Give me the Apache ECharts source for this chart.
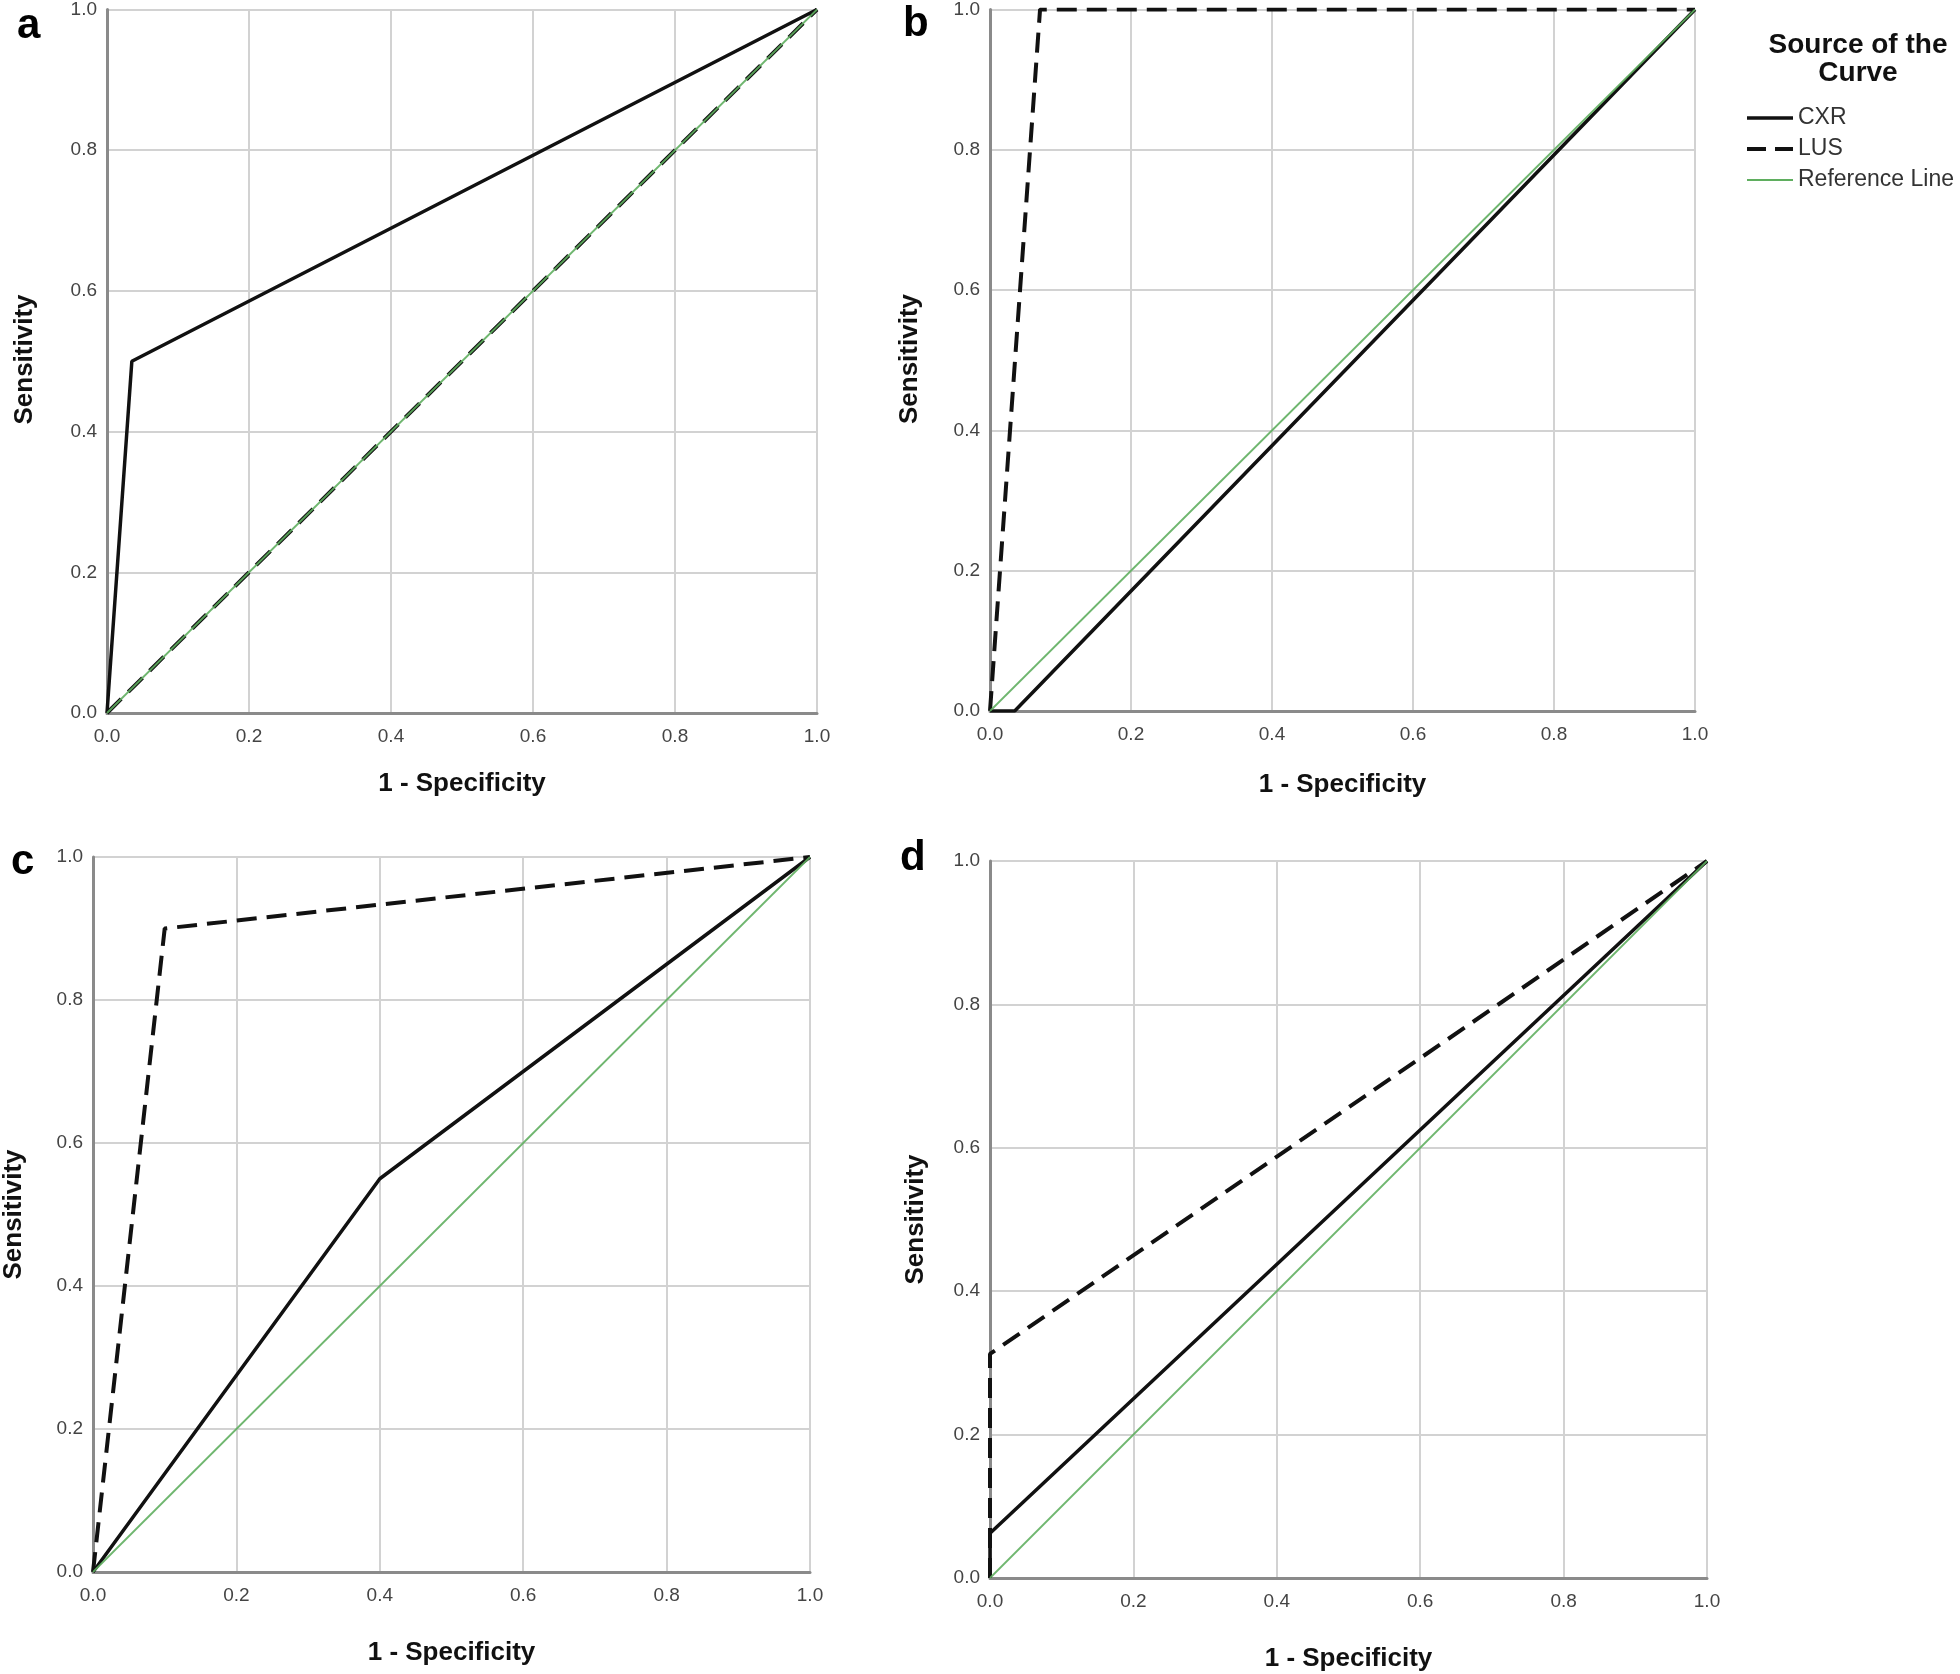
<!DOCTYPE html>
<html><head><meta charset="utf-8">
<script src="https://cdn.jsdelivr.net/npm/echarts@6/dist/echarts.min.js"></script>
<style>html,body{margin:0;padding:0;background:#fff}#c{width:1960px;height:1674px}</style>
</head><body><div id="c"></div>
<script>
// Data (1 - Specificity, Sensitivity)
const panelLabels = ['a','b','c','d'];
const tickValues = [0, 0.2, 0.4, 0.6, 0.8, 1.0];
const refFpr = [0, 1];
const refTpr = [0, 1];
const aCxrFpr = [0, 0.035, 1];
const aCxrTpr = [0, 0.5, 1];
const aLusFpr = [0, 1];
const aLusTpr = [0, 1];
const bCxrFpr = [0, 0.035, 1];
const bCxrTpr = [0, 0, 1];
const bLusFpr = [0, 0.071, 1];
const bLusTpr = [0, 1, 1];
const cCxrFpr = [0, 0.4, 1];
const cCxrTpr = [0, 0.55, 1];
const cLusFpr = [0, 0.1, 1];
const cLusTpr = [0, 0.9, 1];
const dCxrFpr = [0, 0, 1];
const dCxrTpr = [0, 0.0625, 1];
const dLusFpr = [0, 0, 1];
const dLusTpr = [0, 0.3125, 1];

const zip = (xs, ys) => xs.map((x, i) => [x, ys[i]]);
const cxr = [zip(aCxrFpr,aCxrTpr), zip(bCxrFpr,bCxrTpr), zip(cCxrFpr,cCxrTpr), zip(dCxrFpr,dCxrTpr)];
const lus = [zip(aLusFpr,aLusTpr), zip(bLusFpr,bLusTpr), zip(cLusFpr,cLusTpr), zip(dLusFpr,dLusTpr)];
const ref = zip(refFpr, refTpr);

const FONT = 'Liberation Sans, Arial, sans-serif';
const grids = [
  {left:107, top:6, width:710, height:707},
  {left:990, top:7, width:705, height:704},
  {left:93, top:857, width:717, height:715},
  {left:990, top:861, width:717, height:717}
];
const labelPos = [
  {left:12, top:0}, {left:898, top:-2}, {left:6, top:836}, {left:895, top:832}
];
const yNameX = [25, 910, 14, 916];
const xNameY = [784, 785, 1653, 1659];

const xAxes = [], yAxes = [], series = [], titles = [];
grids.forEach((g, i) => {
  xAxes.push({
    type:'value', gridIndex:i, min:0, max:1, interval:0.2,
    axisLine:{show:true, lineStyle:{color:'#8a8a8a', width:3}},
    axisTick:{show:false},
    splitLine:{show:true, lineStyle:{color:'#d2d2d2', width:2}},
    axisLabel:{formatter:v=>v.toFixed(1), color:'#444', fontSize:19, fontFamily:FONT, margin:14}
  });
  yAxes.push({
    type:'value', gridIndex:i, min:0, max:1, interval:0.2,
    axisLine:{show:true, lineStyle:{color:'#8a8a8a', width:3}},
    axisTick:{show:false},
    splitLine:{show:true, lineStyle:{color:'#d2d2d2', width:2}},
    axisLabel:{formatter:v=>v.toFixed(1), color:'#444', fontSize:19, fontFamily:FONT, margin:10}
  });
  series.push({
    name:'CXR', type:'line', xAxisIndex:i, yAxisIndex:i, data:cxr[i],
    showSymbol:false, symbol:'none', animation:false, z:3,
    lineStyle:{color:'#111', width:3.5, type:'solid'}, itemStyle:{color:'#111'}
  });
  series.push({
    name:'LUS', type:'line', xAxisIndex:i, yAxisIndex:i, data:lus[i],
    showSymbol:false, symbol:'none', animation:false, z:4,
    lineStyle:{color:'#111', width:4, type:[20,10]}, itemStyle:{color:'#111'}
  });
  series.push({
    name:'Reference Line', type:'line', xAxisIndex:i, yAxisIndex:i, data:ref,
    showSymbol:false, symbol:'none', animation:false, z:5,
    lineStyle:{color:'#5fae5f', width:1.8, type:'solid', opacity:0.9}, itemStyle:{color:'#5fae5f'}
  });
  titles.push({text:panelLabels[i], left:labelPos[i].left, top:labelPos[i].top,
    textStyle:{fontSize:42, fontWeight:'bold', color:'#000', fontFamily:FONT}});
});

const graphics = [];
grids.forEach((g, i) => {
  graphics.push({type:'text', x:yNameX[i], y:g.top + g.height/2, rotation:Math.PI/2,
    style:{text:'Sensitivity', font:'bold 26px ' + FONT, fill:'#111', textAlign:'center', textVerticalAlign:'middle'}});
  graphics.push({type:'text', x:g.left + g.width/2, y:xNameY[i],
    style:{text:'1 - Specificity', font:'bold 26px ' + FONT, fill:'#111', textAlign:'center', textVerticalAlign:'middle'}});
});

titles.push({text:'Source of the\nCurve', left:1853, top:26, textAlign:'center',
  textStyle:{fontSize:28, fontWeight:'bold', color:'#111', lineHeight:28, fontFamily:FONT}});

const chart = echarts.init(document.getElementById('c'), null, {renderer:'canvas'});
chart.setOption({
  backgroundColor:'#fff',
  animation:false,
  title:titles,
  grid:grids,
  xAxis:xAxes,
  yAxis:yAxes,
  legend:{
    data:[
      {name:'CXR', icon:'path://M0,0.3H46V3.7H0Z'},
      {name:'LUS', icon:'path://M0,0H19V4H0Z M28,0H46V4H28Z'},
      {name:'Reference Line', icon:'path://M0,0L46,0L46,0Z M0,1.1H46V2.9H0Z M0,4L46,4L46,4Z'}
    ],
    orient:'vertical', left:1747, top:105,
    itemWidth:46, itemHeight:4, itemGap:5, padding:0,
    textStyle:{fontSize:23, color:'#333', fontFamily:FONT, lineHeight:26},
    selectedMode:false
  },
  graphic:graphics,
  series:series
});
</script>
</body></html>
